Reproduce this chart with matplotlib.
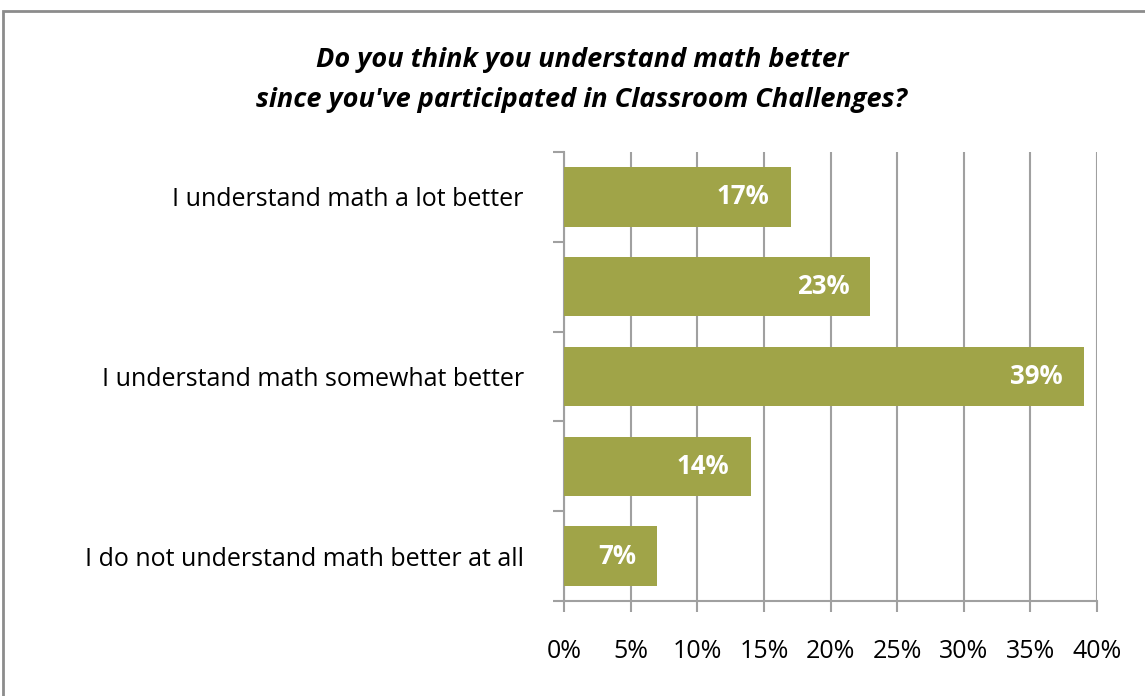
import matplotlib
matplotlib.use("Agg")
import matplotlib.pyplot as plt
from matplotlib.patches import Rectangle
from matplotlib.ticker import FuncFormatter
from matplotlib.transforms import offset_copy

categories = [
    "I understand math a lot better",
    "",
    "I understand math somewhat better",
    "",
    "I do not understand math better at all",
]
values = [17, 23, 39, 14, 7]
value_labels = ["17%", "23%", "39%", "14%", "7%"]
x_ticks = [0, 5, 10, 15, 20, 25, 30, 35, 40]
title = "Do you think you understand math better\nsince you've participated in Classroom Challenges?"

plt.rcParams['font.family'] = ['Open Sans', 'DejaVu Sans']

W, H = 1145, 696
fig = plt.figure(figsize=(W / 100, H / 100), dpi=100)
fig.patch.set_facecolor("white")

# outer chart border
fig.add_artist(Rectangle((3 / W, -0.01), (W + 10) / W, 1 - 11 / H + 0.01,
                         transform=fig.transFigure, fill=False,
                         edgecolor="#8c8c8c", linewidth=2))

left, right, top, bottom = 564, 1097, 152, 601
ax = fig.add_axes([left / W, 1 - bottom / H, (right - left) / W, (bottom - top) / H])

bar_color = "#A0A448"
grid_color = "#A0A0A0"
n = len(categories)
ypos = list(range(n))
ax.barh(ypos, values, height=0.66, color=bar_color, zorder=3)
ax.set_ylim(n - 0.5, -0.5)
ax.set_xlim(0, 40)

ax.set_xticks(x_ticks)
ax.xaxis.set_major_formatter(FuncFormatter(lambda v, p: f"{int(v)}%"))
ax.grid(axis="x", color=grid_color, linewidth=1.5, zorder=0)
ax.set_axisbelow(True)

# y ticks at band boundaries, labels at centres
ax.set_yticks([i - 0.5 for i in range(n + 1)])
ax.set_yticklabels([])
ax.set_yticks(ypos, minor=True)
ax.set_yticklabels(categories, minor=True, fontsize=18)
ax.tick_params(axis="y", which="minor", length=0, pad=29)
ax.tick_params(axis="y", which="major", length=8, width=1.5, color=grid_color)
ax.tick_params(axis="x", length=8, width=1.5, color=grid_color, labelsize=18, pad=19)

for s in ["top", "right"]:
    ax.spines[s].set_visible(False)
for s in ["left", "bottom"]:
    ax.spines[s].set_color(grid_color)
    ax.spines[s].set_linewidth(1.5)

for y, v, lab in zip(ypos, values, value_labels):
    ax.text(v, y, lab, transform=offset_copy(ax.transData, fig=fig, x=-21, y=0, units="dots"),
            ha="right", va="center", color="white", fontsize=18.5, fontweight="bold", zorder=4)

fig.text(582 / W, 1 - 80 / H, title, ha="center", va="center", fontsize=19.5,
         fontweight="bold", fontstyle="italic", linespacing=1.7)

fig.savefig("out.png", dpi=100, facecolor="white")
